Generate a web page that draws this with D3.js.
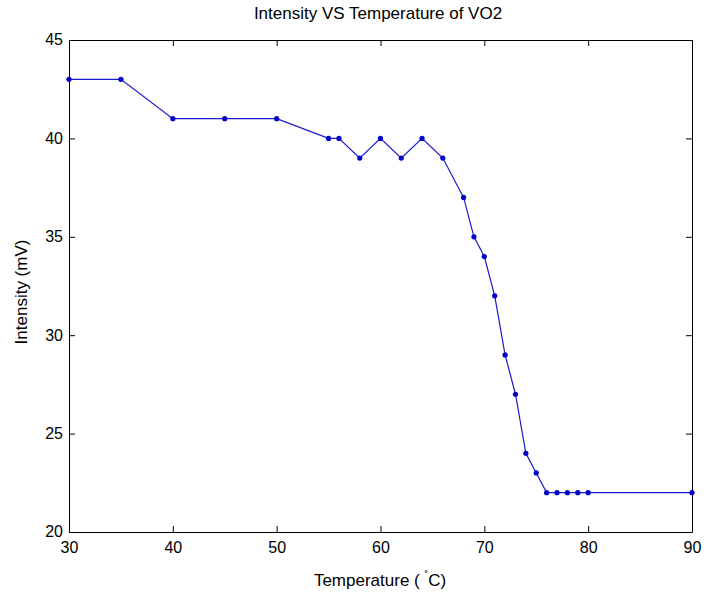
<!DOCTYPE html>
<html>
<head>
<meta charset="utf-8">
<script src="https://cdn.jsdelivr.net/npm/d3@7"></script>
<style>
  html, body { margin: 0; padding: 0; background: #fff; }
  svg text { font-family: "Liberation Sans", Arial, sans-serif; fill: #000; }
</style>
</head>
<body>
<svg id="chart" width="704" height="594"></svg>
<script>
// Temperature sweep (°C) and measured intensity (mV)
const temperature = [30, 35, 40, 45, 50, 55, 56, 58, 60, 62, 64, 66, 68, 69, 70, 71, 72, 73, 74, 75, 76, 77, 78, 79, 80, 90];
const intensity   = [43, 43, 41, 41, 41, 40, 40, 39, 40, 39, 40, 39, 37, 35, 34, 32, 29, 27, 24, 23, 22, 22, 22, 22, 22, 22];
const xTicks = [30, 40, 50, 60, 70, 80, 90];
const yTicks = [20, 25, 30, 35, 40, 45];

const svg = d3.select("#chart");
const plotLeft = 69, plotRight = 692, plotTop = 40, plotBottom = 532;

const x = d3.scaleLinear().domain([30, 90]).range([plotLeft, plotRight]);
const y = d3.scaleLinear().domain([20, 45]).range([plotBottom, plotTop]);

const tickLen = 6;
const tickFont = 16;
const labelFont = 17;

// Axes box with inward ticks on all four sides
const gB = svg.append("g").attr("transform", `translate(0,${plotBottom})`)
  .call(d3.axisBottom(x).tickValues(xTicks).tickSizeInner(-tickLen).tickSizeOuter(0).tickPadding(10));
const gT = svg.append("g").attr("transform", `translate(0,${plotTop})`)
  .call(d3.axisTop(x).tickValues(xTicks).tickSizeInner(-tickLen).tickSizeOuter(0).tickFormat(""));
const gL = svg.append("g").attr("transform", `translate(${plotLeft},0)`)
  .call(d3.axisLeft(y).tickValues(yTicks).tickSizeInner(-tickLen).tickSizeOuter(0).tickPadding(6));
const gR = svg.append("g").attr("transform", `translate(${plotRight},0)`)
  .call(d3.axisRight(y).tickValues(yTicks).tickSizeInner(-tickLen).tickSizeOuter(0).tickFormat(""));

[gB, gT, gL, gR].forEach(g => {
  g.selectAll("path.domain").attr("stroke", "#000").attr("stroke-width", 1);
  g.selectAll(".tick line").attr("stroke", "#000");
  g.selectAll(".tick text").attr("font-size", tickFont).attr("font-family", null);
});
gB.selectAll(".tick text").attr("dy", "0.71em");
gL.selectAll(".tick text").attr("dy", "0.3em");

// Data line and markers
const line = d3.line().x((d, i) => x(temperature[i])).y(d => y(d));
svg.append("path")
  .datum(intensity)
  .attr("d", line)
  .attr("fill", "none")
  .attr("stroke", "#1a1acc")
  .attr("stroke-width", 1.2);

svg.append("g").selectAll("circle")
  .data(intensity)
  .join("circle")
  .attr("cx", (d, i) => x(temperature[i]))
  .attr("cy", d => y(d))
  .attr("r", 2.6)
  .attr("fill", "#0000c8");

// Titles
svg.append("text")
  .attr("x", 378).attr("y", 19)
  .attr("text-anchor", "middle").attr("font-size", labelFont)
  .text("Intensity VS Temperature of VO2");

const xl = svg.append("text")
  .attr("x", 380).attr("y", 586)
  .attr("text-anchor", "middle").attr("font-size", labelFont);
xl.append("tspan").text("Temperature ( ");
xl.append("tspan").attr("dy", -7).attr("font-size", 11).text("˚");
xl.append("tspan").attr("dy", 7).text("C)");

svg.append("text")
  .attr("transform", `translate(27,292) rotate(-90)`)
  .attr("text-anchor", "middle").attr("font-size", labelFont)
  .text("Intensity (mV)");
</script>
</body>
</html>
